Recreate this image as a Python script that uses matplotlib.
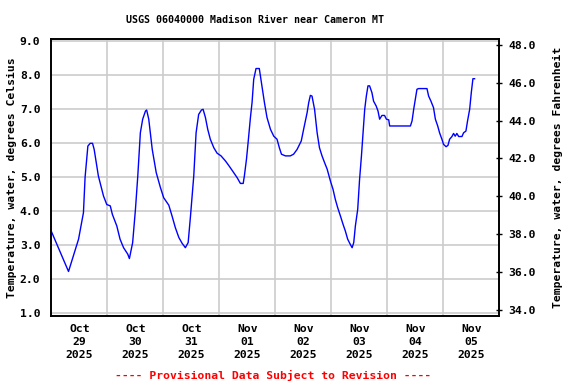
import matplotlib
matplotlib.use("Agg")
import matplotlib.pyplot as plt
import pandas as pd

title = "USGS 06040000 Madison River near Cameron MT"
start = "2025-10-29 00:00"
hours = [0.0, 7.3, 11.6, 13.7, 14.4, 15.6, 16.6, 17.6, 18.3, 20.1, 22.3, 23.7, 25.2, 26.1,
         28.0, 29.4, 30.9, 32.7, 33.4, 34.8, 36.0, 37.0, 38.1, 39.1, 40.3, 40.8, 41.7, 43.2,
         44.9, 46.7, 48.1, 50.3, 51.7, 53.1, 54.6, 56.0, 57.4, 58.6, 59.6, 61.0, 62.0, 63.1,
         64.3, 65.0, 66.0, 67.0, 68.1, 69.6, 71.0, 72.7, 74.6, 76.4, 78.1, 79.6, 81.0, 82.2,
         82.7, 83.6, 84.3, 85.3, 86.0, 86.7, 87.7, 89.1, 90.0, 91.3, 92.4, 93.9, 95.3, 96.7,
         97.7, 98.6, 100.3, 102.4, 103.8, 105.3, 107.1, 108.1, 109.6, 110.3, 111.0, 111.7,
         112.8, 113.9, 114.9, 116.0, 117.1, 118.2, 119.1, 119.6, 120.7, 121.7, 122.7, 123.9,
         125.0, 126.0, 127.0, 128.1, 128.9, 129.6, 130.3, 131.3, 132.1, 132.9, 133.6, 134.3,
         135.0, 135.7, 136.4, 137.4, 138.1, 139.2, 140.0, 140.7, 141.7, 142.8, 143.6, 144.6,
         145.0, 153.9, 154.6, 155.3, 156.0, 156.7, 157.4, 161.0, 161.7, 162.7, 163.8, 164.6,
         165.6, 166.4, 167.4, 168.1, 169.2, 170.0, 170.7, 171.7, 172.4, 173.1, 173.8, 174.6,
         176.0, 176.7, 177.7, 178.4, 179.3, 180.0, 180.7, 181.4]
temps_c = [3.40, 2.23, 3.18, 3.96, 5.00, 5.92, 6.00, 6.00, 5.82, 5.04, 4.45, 4.20, 4.16, 3.91,
           3.57, 3.18, 2.93, 2.74, 2.61, 3.08, 4.06, 5.04, 6.31, 6.71, 6.95, 6.98, 6.71, 5.82,
           5.14, 4.70, 4.40, 4.18, 3.86, 3.52, 3.23, 3.06, 2.93, 3.08, 3.86, 5.04, 6.31, 6.85,
           6.98, 7.00, 6.76, 6.41, 6.12, 5.87, 5.71, 5.63, 5.48, 5.31, 5.14, 4.99, 4.82, 4.82,
           5.04, 5.53, 6.02, 6.76, 7.20, 7.88, 8.20, 8.20, 7.79, 7.20, 6.76, 6.41, 6.21, 6.12,
           5.87, 5.68, 5.63, 5.63, 5.68, 5.82, 6.07, 6.41, 6.90, 7.20, 7.41, 7.39,
           7.00, 6.31, 5.87, 5.63, 5.43, 5.24, 5.02, 4.89, 4.65, 4.35, 4.11, 3.86,
           3.62, 3.42, 3.18, 3.03, 2.93, 3.08, 3.57, 4.06, 4.94, 5.63, 6.31, 7.00,
           7.39, 7.69, 7.69, 7.49, 7.24, 7.10, 6.95, 6.71, 6.82, 6.82, 6.71, 6.69,
           6.51, 6.51, 6.66, 7.00, 7.29, 7.59, 7.61, 7.61, 7.39, 7.24, 7.05, 6.71,
           6.51, 6.31, 6.12, 5.97, 5.90, 5.94, 6.12, 6.20, 6.29, 6.21, 6.29, 6.20,
           6.20, 6.31, 6.36, 6.66, 7.00, 7.49, 7.90, 7.90]
day_labels = ["Oct\n29\n2025", "Oct\n30\n2025", "Oct\n31\n2025", "Nov\n01\n2025",
              "Nov\n02\n2025", "Nov\n03\n2025", "Nov\n04\n2025", "Nov\n05\n2025"]
c_ticks = [1.0, 2.0, 3.0, 4.0, 5.0, 6.0, 7.0, 8.0, 9.0]
f_ticks = [34.0, 36.0, 38.0, 40.0, 42.0, 44.0, 46.0, 48.0]

FONT = "DejaVu Sans Mono"
FS = 8.2

times = pd.Timestamp(start) + pd.to_timedelta(hours, unit="h")

fig = plt.figure(figsize=(5.76, 3.84), dpi=100)
ax = fig.add_axes([0.0894, 0.1779, 0.7774, 0.7198])
ax.plot(times, temps_c, color="#0000ff", lw=1.0, zorder=3)

t0 = pd.Timestamp(start)
ax.set_xlim(t0, t0 + pd.Timedelta(days=8))
ax.set_ylim(0.93, 9.06)

midnights = [t0 + pd.Timedelta(days=i) for i in range(1, 8)]
noons = [t0 + pd.Timedelta(days=i, hours=12) for i in range(8)]
ax.set_xticks(midnights)
ax.set_xticklabels([])
ax.set_xticks(noons, minor=True)
ax.set_xticklabels(day_labels, minor=True, fontfamily=FONT, fontweight="bold",
                   fontsize=FS, linespacing=1.4)
ax.tick_params(axis="x", which="both", length=0, pad=6)
ax.grid(True, axis="x", which="major", color="#cccccc", lw=1.2)

ax.set_yticks(c_ticks)
ax.set_yticklabels([f"{v:.1f}" for v in c_ticks], fontfamily=FONT, fontweight="bold", fontsize=FS)
ax.tick_params(axis="y", length=0, pad=8)
ax.grid(True, axis="y", color="#cccccc", lw=1.2)
ax.set_axisbelow(True)
ax.set_ylabel("Temperature, water, degrees Celsius", fontfamily=FONT, fontweight="bold",
              fontsize=FS, labelpad=2)

ax2 = ax.twinx()
lo, hi = ax.get_ylim()
ax2.set_ylim(lo * 1.8 + 32, hi * 1.8 + 32)
ax2.set_yticks(f_ticks)
ax2.set_yticklabels([f"{v:.1f}" for v in f_ticks], fontfamily=FONT, fontweight="bold", fontsize=FS)
ax2.tick_params(axis="y", direction="inout", length=5, width=1, pad=4)
ax2.set_ylabel("Temperature, water, degrees Fahrenheit", fontfamily=FONT, fontweight="bold",
               fontsize=FS, labelpad=12)

for a in (ax, ax2):
    for s in a.spines.values():
        s.set_linewidth(1.2)
        s.set_color("black")

fig.text(0.443, 0.947, title, ha="center", va="center", fontfamily=FONT,
         fontweight="bold", fontsize=7.2)
fig.text(0.474, 0.023, "---- Provisional Data Subject to Revision ----", ha="center",
         va="center", color="#ff0000", fontfamily=FONT, fontweight="bold", fontsize=FS)

fig.savefig("out.png", dpi=100)
